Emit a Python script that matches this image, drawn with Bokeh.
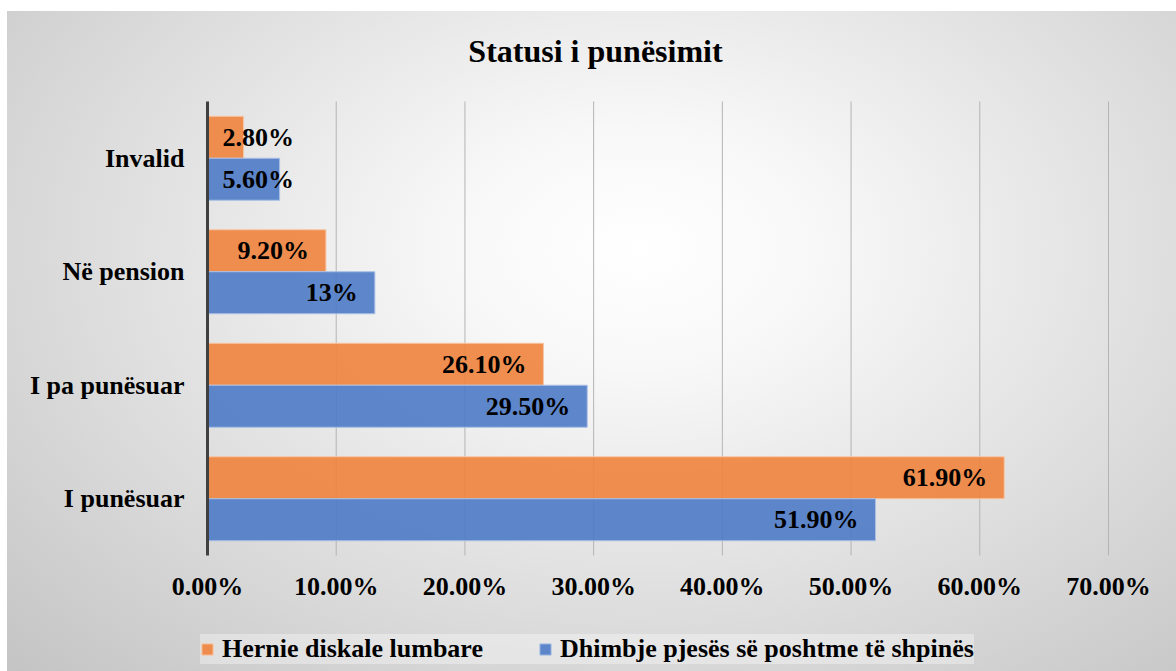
from bokeh.plotting import figure
from bokeh.models import ColumnDataSource, FixedTicker, Legend, LegendItem, Label, Range1d
from bokeh.core.properties import value
from bokeh.embed import file_html
from bokeh.resources import INLINE

# ---- data ----
categories = ["I punësuar", "I pa punësuar", "Në pension", "Invalid"]
hernie = [61.9, 26.1, 9.2, 2.8]
hernie_labels = ["61.90%", "26.10%", "9.20%", "2.80%"]
dhimbje = [51.9, 29.5, 13.0, 5.6]
dhimbje_labels = ["51.90%", "29.50%", "13%", "5.60%"]
series_names = ["Hernie diskale lumbare", "Dhimbje pjesës së poshtme të shpinës"]
tick_values = [0, 10, 20, 30, 40, 50, 60, 70]
tick_labels = ["0.00%", "10.00%", "20.00%", "30.00%", "40.00%", "50.00%", "60.00%", "70.00%"]
title_text = "Statusi i punësimit"

ORANGE = "#EE833C"
BLUE = "#4D7AC7"
FONT = "Times New Roman"
SMALL = 8      # bars shorter than this get their label anchored at the axis
BAR_H = 0.37   # bar thickness in category units
W, H = 1169, 660

n = len(categories)
ypos = [i + 0.5 for i in range(n)]          # category centres on the value axis scale


def label_cols(vals):
    xs, aligns, offs = [], [], []
    for v in vals:
        if v >= SMALL:
            xs.append(v); aligns.append("right"); offs.append(-17)
        else:
            xs.append(0); aligns.append("left"); offs.append(15)
    return xs, aligns, offs


hx, ha, ho = label_cols(hernie)
dx, da, do = label_cols(dhimbje)

src_h = ColumnDataSource(dict(y=[c + BAR_H / 2 for c in ypos], val=hernie, lab=hernie_labels,
                              lx=hx, la=ha, lo=ho))
src_d = ColumnDataSource(dict(y=[c - BAR_H / 2 for c in ypos], val=dhimbje, lab=dhimbje_labels,
                              lx=dx, la=da, lo=do))

# whole canvas is the frame; axes are pinned inside it
x_max = tick_values[-1]
px_per_unit = 901 / x_max
unit_px = 113.5
p = figure(
    x_range=Range1d(-200 / px_per_unit, x_max + 68 / px_per_unit),
    y_range=Range1d(-116 / unit_px, n + 90 / unit_px),
    frame_width=W, frame_height=H,
    min_border=0,
    output_backend="svg", toolbar_location=None,
)
p.styles = {
    "margin-left": "7px",
    "margin-top": "11px",
    "background": "radial-gradient(ellipse farthest-corner at 54% 36%, #ffffff 0%, #f8f8f8 20%, #c4c4c4 100%)",
}
p.border_fill_color = None
p.background_fill_color = None
p.outline_line_color = None

# vertical grid lines at the value ticks, spanning the category area only
p.segment(x0=tick_values[1:], y0=[0] * (len(tick_values) - 1),
          x1=tick_values[1:], y1=[n] * (len(tick_values) - 1),
          line_color="#b4b4b4", line_width=1)

rh = p.hbar(y="y", right="val", left=0, height=BAR_H, source=src_h,
            fill_color=ORANGE, fill_alpha=0.9, line_color="#F7C6A5", line_width=1)
rd = p.hbar(y="y", right="val", left=0, height=BAR_H, source=src_d,
            fill_color=BLUE, fill_alpha=0.9, line_color="#A9BFE6", line_width=1)

for src in (src_h, src_d):
    p.text(x="lx", y="y", text="lab", source=src,
           text_align="la", x_offset="lo", text_baseline="middle",
           text_font=value(FONT), text_font_size="26px", text_font_style="bold",
           text_color="#000000")

# x axis (value axis)
p.xaxis.fixed_location = 0
p.xaxis.ticker = FixedTicker(ticks=tick_values)
p.xaxis.major_label_overrides = {v: l for v, l in zip(tick_values, tick_labels)}
p.xaxis.axis_line_color = None
p.xaxis.major_tick_line_color = None
p.xaxis.minor_tick_line_color = None
p.xaxis.major_tick_out = 0
p.xaxis.major_tick_in = 0
p.xaxis.major_label_standoff = 16
p.xaxis.major_label_text_font = FONT
p.xaxis.major_label_text_font_size = "26px"
p.xaxis.major_label_text_font_style = "bold"
p.xaxis.major_label_text_color = "#000000"

# y axis (categories)
p.yaxis.fixed_location = 0
p.yaxis.bounds = (0, n)
p.yaxis.ticker = FixedTicker(ticks=ypos)
p.yaxis.major_label_overrides = {y: c for y, c in zip(ypos, categories)}
p.yaxis.axis_line_color = "#404040"
p.yaxis.axis_line_width = 3
p.yaxis.major_tick_line_color = None
p.yaxis.minor_tick_line_color = None
p.yaxis.major_tick_out = 0
p.yaxis.major_tick_in = 0
p.yaxis.major_label_standoff = 23
p.yaxis.major_label_text_font = FONT
p.yaxis.major_label_text_font_size = "26px"
p.yaxis.major_label_text_font_style = "bold"
p.yaxis.major_label_text_color = "#000000"

p.xgrid.grid_line_color = None
p.ygrid.grid_line_color = None

title = Label(x=588, y=H - 39, x_units="screen", y_units="screen", text=title_text,
              text_align="center", text_baseline="alphabetic",
              text_font=FONT, text_font_size="32px", text_font_style="bold",
              text_color="#000000")
p.add_layout(title)

legend = Legend(
    items=[LegendItem(label=series_names[0], renderers=[rh]),
           LegendItem(label=series_names[1], renderers=[rd])],
    orientation="horizontal", location=(193, 7),
    label_text_font=FONT, label_text_font_size="26px", label_text_font_style="bold",
    label_text_color="#000000",
    glyph_width=14, glyph_height=14, label_standoff=8, spacing=55,
    label_height=30, padding=8, margin=0,
    background_fill_color="#ffffff", background_fill_alpha=0.35,
    border_line_color=None,
)
p.add_layout(legend, "center")

open("out.html", "w").write(file_html(p, INLINE))
